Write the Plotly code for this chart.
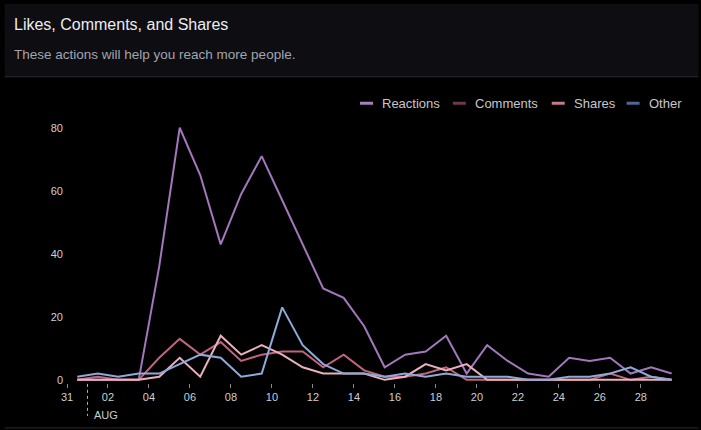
import plotly.graph_objects as go

# ---- data ----
dates = [f"2023-07-31 12:00"] + [f"2023-08-{d:02d} 12:00" for d in range(1, 30)]
reactions = [0, 0, 0, 0, 36, 80, 65, 43, 59, 71, 57, 43, 29, 26, 17, 4, 8, 9, 14, 2, 11, 6, 2, 1, 7, 6, 7, 2, 4, 2]
comments = [0, 1, 0, 0, 7, 13, 8, 12, 6, 8, 9, 9, 4, 8, 3, 1, 1, 2, 4, 0, 0, 0, 0, 0, 0, 0, 2, 0, 1, 0]
shares = [0, 0, 0, 0, 1, 7, 1, 14, 8, 11, 8, 4, 2, 2, 2, 0, 1, 5, 3, 5, 0, 0, 0, 0, 0, 0, 0, 0, 0, 0]
other = [1, 2, 1, 2, 2, 5, 8, 7, 1, 2, 23, 11, 5, 2, 2, 1, 2, 1, 2, 1, 1, 1, 0, 0, 1, 1, 2, 4, 1, 0]

series_names = ["Reactions", "Comments", "Shares", "Other"]
series_values = [reactions, comments, shares, other]
line_colors = ["#a377bb", "#c0657f", "#ebb0be", "#8eaad8"]
legend_colors = ["#a880c0", "#6e3a4c", "#c7798f", "#4f679c"]

title_text = "Likes, Comments, and Shares"
subtitle_text = "These actions will help you reach more people."
month_label = "AUG"

# ---- geometry helpers (layout only) ----
W_PX, H_PX = 701, 430
L, R = 66.5, 681.5
T, B = 112.25, 383.15
PW, PH = R - L, B - T


def px(x):
    return (x - L) / PW


def py(y):
    return (B - y) / PH


FONT = "Liberation Sans, Arial, Helvetica, sans-serif"

fig = go.Figure()
for name, vals, col in zip(series_names, series_values, line_colors):
    fig.add_trace(go.Scatter(
        x=dates, y=vals, mode="lines", name=name,
        line=dict(color=col, width=2), showlegend=False,
        hoverinfo="x+y+name",
    ))

shapes = []
annotations = []

# panel header background & borders
shapes.append(dict(type="rect", xref="paper", yref="paper",
                   x0=px(4), x1=px(699), y0=py(77), y1=py(4),
                   fillcolor="#0d0d12", line=dict(width=0), layer="below"))
shapes.append(dict(type="line", xref="paper", yref="paper",
                   x0=px(4), x1=px(699), y0=py(77), y1=py(77),
                   line=dict(color="#2a2a2f", width=1), layer="below"))
shapes.append(dict(type="line", xref="paper", yref="paper",
                   x0=px(4), x1=px(699), y0=py(428), y1=py(428),
                   line=dict(color="#2a2a2f", width=1), layer="below"))

annotations.append(dict(text=title_text, xref="paper", yref="paper",
                        x=px(11), y=py(25), xanchor="left", yanchor="middle",
                        showarrow=False, font=dict(family=FONT, size=16, color="#ececf0")))
annotations.append(dict(text=subtitle_text, xref="paper", yref="paper",
                        x=px(11), y=py(55), xanchor="left", yanchor="middle",
                        showarrow=False, font=dict(family=FONT, size=13.5, color="#a4a4ac")))

# custom legend
legend_swatch_x = [360, 453, 552, 627]
legend_y = 103.5
for name, col, sx in zip(series_names, legend_colors, legend_swatch_x):
    shapes.append(dict(type="line", xref="paper", yref="paper",
                       x0=px(sx), x1=px(sx + 13), y0=py(legend_y), y1=py(legend_y),
                       line=dict(color=col, width=3)))
    annotations.append(dict(text=name, xref="paper", yref="paper",
                            x=px(sx + 20), y=py(legend_y), xanchor="left", yanchor="middle",
                            showarrow=False, font=dict(family=FONT, size=13, color="#c6c6cc")))

# month marker
shapes.append(dict(type="line", xref="x", yref="paper",
                   x0="2023-08-01", x1="2023-08-01", y0=py(384), y1=py(416),
                   line=dict(color="#b0b0b0", width=1, dash="dot")))
annotations.append(dict(text=month_label, xref="x", yref="paper",
                        x="2023-08-01", y=py(415), xanchor="left", yanchor="middle",
                        xshift=4, showarrow=False,
                        font=dict(family=FONT, size=11, color="#cfcfcf")))

fig.update_layout(
    width=W_PX, height=H_PX,
    margin=dict(l=L, r=W_PX - R, t=T, b=H_PX - B, pad=0),
    paper_bgcolor="#000000", plot_bgcolor="#000000",
    font=dict(family=FONT, size=11, color="#cfcfcf"),
    showlegend=False,
    shapes=shapes, annotations=annotations,
    xaxis=dict(
        type="date", range=["2023-07-31", "2023-08-29 23:00"],
        tick0="2023-07-31", dtick=2 * 86400000, tickformat="%d",
        ticks="outside", ticklen=4, tickcolor="#8a8a8a", tickwidth=1,
        showgrid=False, zeroline=False, showline=False,
        tickfont=dict(family=FONT, size=11, color="#cfcfcf"),
    ),
    yaxis=dict(
        range=[-1, 85], tickvals=[0, 20, 40, 60, 80],
        showgrid=False, zeroline=False, showline=False, ticks="",
        ticklabelstandoff=3,
        tickfont=dict(family=FONT, size=11, color="#cfcfcf"),
    ),
)

fig.write_html("out.html")
